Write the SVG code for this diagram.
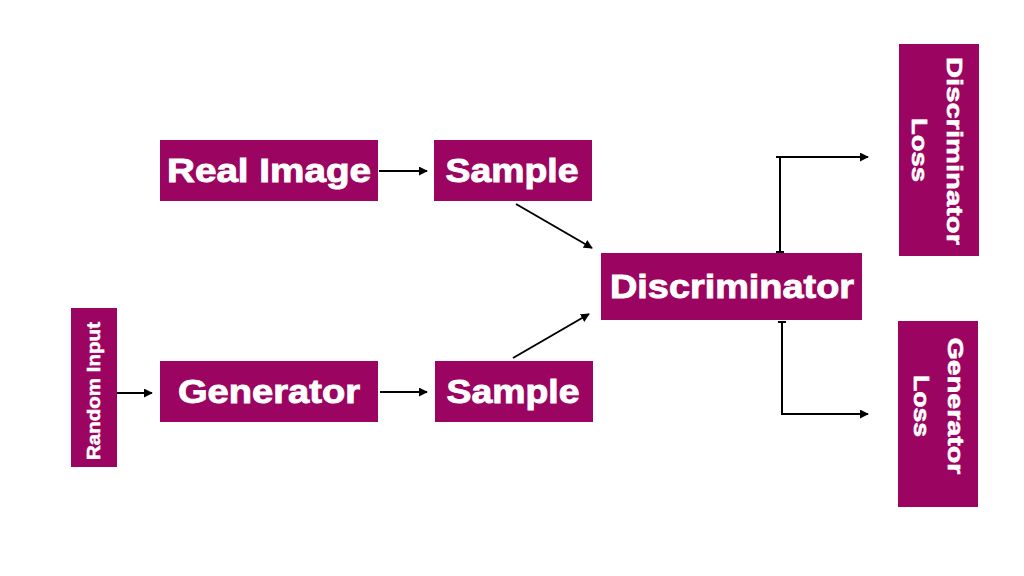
<svg xmlns="http://www.w3.org/2000/svg" width="1024" height="576" viewBox="0 0 1024 576">
<defs>
<marker id="arr" viewBox="0 0 10 10" refX="9" refY="5" markerWidth="4.5" markerHeight="4.5" orient="auto" markerUnits="strokeWidth">
<path d="M0,0 L10,5 L0,10 z" fill="#000"/>
</marker>
<style>
.box{fill:#9c0461;}
.t{fill:#fff;stroke:#fff;stroke-width:0.9;font-family:"Liberation Sans",Arial,sans-serif;font-weight:bold;text-anchor:middle;}
.big{font-size:33px;}
.sm{font-size:22px;stroke-width:0.6;}
.xs{font-size:18px;stroke-width:0.5;}
.c{stroke:#000;stroke-width:2;fill:none;}
.a{marker-end:url(#arr);}
</style>
</defs>
<rect width="1024" height="576" fill="#fff"/>
<g id="real-image"><rect class="box" x="160" y="140" width="218" height="61"/><text class="t big" x="269" y="182" textLength="204" lengthAdjust="spacingAndGlyphs">Real Image</text></g>
<g id="sample-top"><rect class="box" x="434" y="140" width="158" height="61"/><text class="t big" x="512" y="182" textLength="133" lengthAdjust="spacingAndGlyphs">Sample</text></g>
<g id="generator"><rect class="box" x="160" y="361" width="218" height="61"/><text class="t big" x="269" y="403" textLength="182" lengthAdjust="spacingAndGlyphs">Generator</text></g>
<g id="sample-bottom"><rect class="box" x="435" y="361" width="158" height="61"/><text class="t big" x="513" y="403" textLength="133" lengthAdjust="spacingAndGlyphs">Sample</text></g>
<g id="discriminator"><rect class="box" x="601" y="253" width="261" height="67"/><text class="t big" x="732" y="298" textLength="244" lengthAdjust="spacingAndGlyphs">Discriminator</text></g>
<g id="random-input"><rect class="box" x="71" y="308" width="46" height="159"/><text class="t xs" transform="translate(100,391) rotate(-90)" x="0" y="0" textLength="138" lengthAdjust="spacingAndGlyphs">Random Input</text></g>
<g id="discriminator-loss"><rect class="box" x="899" y="44" width="80" height="212"/>
<text class="t sm" transform="translate(947,151) rotate(90)" x="0" y="0" textLength="188" lengthAdjust="spacingAndGlyphs">Discriminator</text>
<text class="t sm" transform="translate(912,150) rotate(90)" x="0" y="0" textLength="64" lengthAdjust="spacingAndGlyphs">Loss</text></g>
<g id="generator-loss"><rect class="box" x="898" y="321" width="80" height="186"/>
<text class="t sm" transform="translate(948,406) rotate(90)" x="0" y="0" textLength="137" lengthAdjust="spacingAndGlyphs">Generator</text>
<text class="t sm" transform="translate(914,406) rotate(90)" x="0" y="0" textLength="62" lengthAdjust="spacingAndGlyphs">Loss</text></g>
<g id="connectors">
<line class="c a" x1="379" y1="171" x2="427" y2="171"/>
<line class="c a" x1="380" y1="392" x2="427" y2="392"/>
<line class="c a" x1="117" y1="393" x2="152" y2="393"/>
<line class="c a" x1="516" y1="204" x2="592" y2="248"/>
<line class="c a" x1="513" y1="358" x2="589" y2="314"/>
<polyline class="c a" points="780,252 780,157 868,157"/>
<line class="c" x1="776" y1="252" x2="784" y2="252"/>
<line class="c" x1="776" y1="157" x2="784" y2="157"/>
<polyline class="c a" points="782,322 782,414 868,414"/>
<line class="c" x1="778" y1="322" x2="786" y2="322"/>
</g>
</svg>
